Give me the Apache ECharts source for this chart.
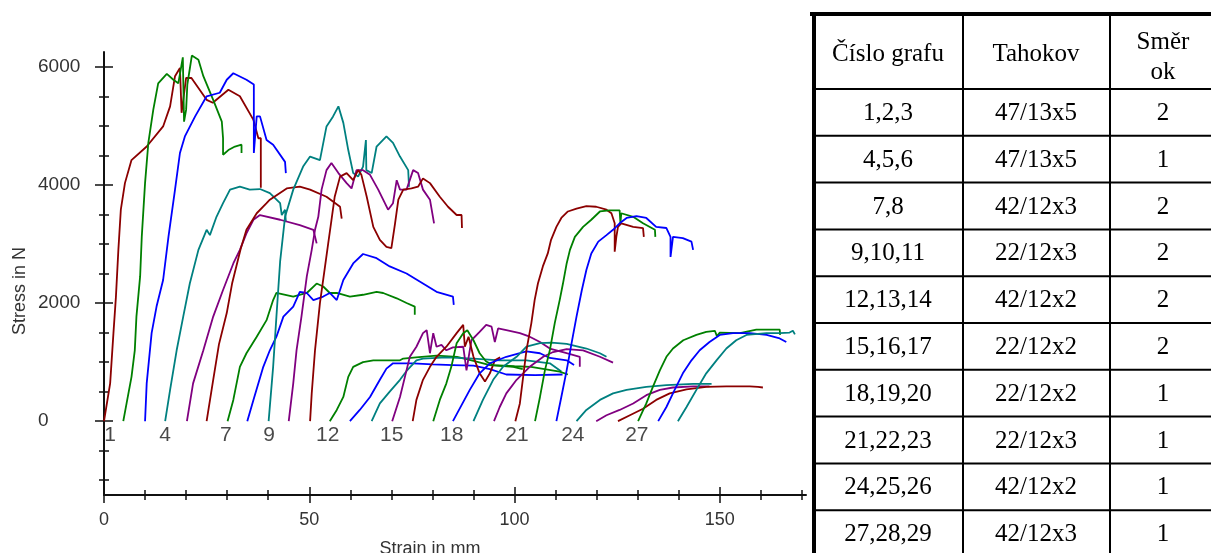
<!DOCTYPE html>
<html>
<head>
<meta charset="utf-8">
<script src="https://cdn.jsdelivr.net/npm/echarts@6/dist/echarts.min.js"></script>
<style>
  html, body { margin: 0; padding: 0; background: #fff; }
  #chart { width: 1211px; height: 553px; }
</style>
</head>
<body>
<div id="chart"></div>
<script>
// strain [mm], stress [N]
const curve01 = [[0,0],[1.5,640],[2.3,1490],[2.9,2100],[3.5,2900],[4.1,3580],[5.1,4030],[6.7,4420],[10.4,4650],[14.4,4990],[16.1,5330],[17.3,5840],[18.5,5980],[18.9,5220],[20,5810],[21.3,5810],[25,5440],[26.5,5390],[30.3,5610],[33.1,5500],[36.4,5100],[37.6,4790],[38.2,4790],[38.2,3950]];
const curve02 = [[4.7,0],[5.5,300],[6.7,750],[7.5,1200],[7.9,1770],[8.8,2450],[9.2,3120],[10,4030],[10.8,4710],[12,5270],[13.2,5720],[15.3,5880],[16.9,5780],[18.1,5720],[19.2,6160],[19.5,5070],[20,5270],[20.3,5700],[21.4,6190],[23,6120],[24.2,5840],[26.6,5440],[28.7,5070],[29,4790],[29,4510],[30.3,4590],[31.9,4650],[33.5,4680],[33.5,4540]];
const curve03 = [[10,0],[10.4,640],[11.6,1490],[12.8,1940],[14.4,2390],[15.7,3120],[17.3,3920],[18.5,4540],[19.7,4820],[22.2,5160],[25,5500],[28.2,5560],[29.9,5780],[31.5,5890],[34.7,5780],[36.5,5700],[36.5,4540],[37.2,5160],[38,5160],[39.6,4760],[41.2,4680],[44.1,4390],[44.3,4200]];
const curve04 = [[14.9,0],[16.1,530],[17.7,1200],[19.3,1770],[20.9,2330],[23,2900],[25,3240],[25.8,3150],[27.4,3460],[29,3690],[30.7,3920],[33.1,3970],[35.5,3920],[38,3930],[40.4,3860],[42.9,3690],[43.3,3490],[44.1,3580],[44.3,3370]];
const curve05 = [[20.2,0],[21.7,640],[24.2,1200],[26.6,1770],[29,2220],[31.5,2670],[33.1,2900],[34.7,3180],[36.4,3410],[38,3490],[42.9,3410],[47.7,3320],[51,3240],[51.8,3010]];
const curve06 = [[25,0],[26.6,700],[28,1300],[29.9,1830],[31.2,2330],[33.3,2920],[34.7,3240],[37.2,3520],[39.6,3690],[40.4,3750],[44.5,3940],[47.7,3970],[50.2,3920],[54.2,3800],[57.5,3630],[57.9,3430]];
const curve07 = [[30.1,0],[31.5,360],[33.1,920],[34.7,1150],[37.2,1430],[39.6,1710],[41.2,2050],[42,2170],[46.1,2110],[49.4,2170],[51.8,2330],[53.4,2280],[55,2170],[56.7,2170],[59.9,2110],[63.1,2140],[66.4,2190],[68,2170],[71.3,2080],[73.7,2000],[75.7,1940],[75.7,1800]];
const curve08 = [[34.9,0],[36.4,360],[38.8,920],[40.4,1200],[42,1430],[43.7,1770],[46.1,1940],[47.7,2190],[49.4,2170],[51,2050],[53.4,2110],[55,2170],[56.7,2050],[58.3,2390],[60.7,2670],[63.1,2830],[66.4,2760],[69.6,2620],[73.7,2500],[77.7,2330],[81,2190],[85,2110],[85.2,1970]];
const curve09 = [[40.1,0],[41.2,920],[42,1770],[42.9,2700],[44.1,3460],[46.1,3920],[48.5,4310],[50.2,4480],[52.6,4420],[54.2,4990],[55.8,5160],[57.1,5330],[58.3,5050],[59.5,4590],[60.7,4200],[61.9,4140],[63.1,4310],[63.8,4760],[63.9,4250],[65.2,4200],[66.4,4650],[68.8,4820],[70.4,4710],[72.1,4480],[74.1,4250],[74.3,3970]];
const curve10 = [[45,0],[46.1,640],[46.9,1200],[48.1,1770],[49.4,2450],[50.6,2900],[51.4,3240],[52.2,3460],[53,3920],[54.2,4250],[55.4,4370],[57.1,4200],[59.1,4030],[60.3,3940],[61.5,4250],[63.1,4250],[64.8,4170],[66.8,3920],[69.2,3580],[70.4,3690],[71.3,4080],[72.1,3920],[73.7,3920],[75.3,4250],[76.5,4200],[77.7,3920],[79.4,3750],[80.4,3350]];
const curve11 = [[50.2,0],[50.6,470],[51.4,1200],[52.6,2000],[53.8,2600],[54.6,3000],[55.4,3400],[56.2,3800],[57.5,4140],[59.1,4200],[60.7,4080],[61.9,4250],[62.7,4170],[64,3800],[65.6,3290],[67.2,3070],[68.8,2950],[70,2930],[70.9,3350],[71.7,3750],[72.9,3920],[74.9,3940],[76.5,3970],[77.7,4110],[79.4,4030],[81.8,3800],[83.8,3630],[85.9,3490],[87.1,3490],[87.2,3270]];
const curve12 = [[55,0],[56.7,190],[58.3,410],[59.5,750],[60.7,920],[63.1,1000],[65.6,1030],[72.1,1030],[72.9,1060],[76,1080],[81,1110],[86,1090],[90,1020],[94,950],[99.7,920],[102,880]];
const curve13 = [[59.9,0],[62.3,190],[64.8,410],[67.2,700],[68.8,890],[70.4,980],[75.3,980],[80,960],[85,950],[90,940],[94,880],[98,790],[105,780],[111.7,790]];
const curve14 = [[65.2,0],[67.2,300],[69.6,500],[72.1,700],[73.7,850],[76.1,1030],[77.7,1060],[83.4,1080],[90,1060],[96.4,1030],[102.9,1030],[108.6,980],[111.4,840]];
const curve15 = [[70.2,0],[72.1,410],[73.3,750],[74.5,1090],[76.1,1260],[77.7,1490],[78.6,1540],[79.4,1150],[80.2,1490],[81,1260],[82.2,1290],[83.4,1200],[85,1250],[87.5,1260],[88.3,860],[89.5,1370],[91.5,1510],[93.1,1630],[94.4,1600],[95.2,1340],[96,1570],[98,1540],[101.3,1490],[103.7,1430],[106.2,1340],[108.6,1230],[112.7,1150],[115.9,1090],[115.9,920]];
const curve16 = [[75.2,0],[76.1,360],[77.7,700],[79.4,920],[81,1090],[83.4,1260],[85.9,1490],[87.5,1630],[87.9,1260],[88.8,1430],[90,1090],[91.5,810],[92.8,670],[94,810],[95.2,1030],[96.5,1080]];
const curve17 = [[80.2,0],[81.8,360],[83.4,640],[84.6,920],[85.9,1320],[87.5,1490],[88.5,1540],[90,1370],[91.5,1150],[93.1,1010],[94.8,950],[100,930],[104,920],[111,840],[113,790]];
const curve18 = [[85,0],[87,260],[89.1,530],[91.5,810],[94,980],[98,1090],[101.3,1150],[102.9,1180],[106.2,1150],[108.6,1070],[112.7,1030],[114.5,950]];
const curve19 = [[90,0],[92.3,360],[94.8,700],[97.2,920],[100.5,1090],[102.9,1260],[106.2,1320],[109,1330],[112.7,1310],[117.5,1230],[120.8,1150],[122.4,1090]];
const curve20 = [[95,0],[96.4,240],[98,470],[100.5,700],[103.7,920],[107,1090],[109.4,1170],[112.7,1220],[116.7,1200],[120.8,1090],[124,990]];
const curve21 = [[100.2,0],[101.3,300],[102.1,750],[102.9,1200],[104.1,1660],[104.9,2050],[105.7,2330],[106.9,2620],[108.1,2840],[108.9,3070],[110.2,3290],[111.4,3440],[113,3550],[115.1,3600],[117.5,3640],[119.9,3630],[122.4,3580],[123.6,3520],[124.4,3350],[124.4,2870],[124.8,3120],[125.2,3290],[126,3350],[128.9,3290],[131.3,3270],[131.5,3120]];
const curve22 = [[105,0],[106.2,410],[107.4,860],[108.6,1200],[109.8,1660],[111,2050],[111.8,2330],[112.7,2670],[113.5,2900],[114.7,3120],[116.7,3290],[118.7,3410],[120.8,3550],[123.1,3570],[125.6,3570],[125.8,3350],[126,3520],[128.9,3460],[131.3,3350],[134.2,3240],[134.3,3120]];
const curve23 = [[110.2,0],[111.4,410],[112.7,860],[113.9,1320],[115.1,1770],[116.4,2220],[117.5,2560],[118.7,2840],[120.4,3040],[122.4,3150],[124,3240],[125.6,3350],[127.3,3440],[129.7,3470],[132.1,3440],[134.5,3290],[137,3270],[138,3120],[138,2780],[138.6,3120],[141,3100],[143.1,3040],[143.5,2900]];
const curve24 = [[115.1,0],[117.5,190],[120.8,360],[124,470],[127.3,530],[132.1,580],[137,610],[143.5,630],[148,630]];
const curve25 = [[119.9,0],[122.4,100],[125.6,190],[128.9,300],[132.1,440],[135.4,530],[138.6,570],[143.5,590],[147.5,590]];
const curve26 = [[125.2,0],[128.1,100],[131.3,210],[134.5,360],[137.8,470],[141.9,540],[146.7,580],[151.6,590],[157.3,590],[159.3,580],[160.5,570]];
const curve27 = [[130.1,0],[132.1,300],[133.7,580],[135.4,860],[137,1090],[138.6,1230],[141.1,1370],[144.3,1460],[146.7,1510],[148.8,1530],[149.3,1440],[150,1500],[154.9,1490],[158.9,1550],[164.6,1550],[164.7,1460]];
const curve28 = [[135,0],[137,240],[139,530],[141,810],[143.1,1030],[145.1,1200],[147.5,1340],[150,1460],[153.2,1490],[157.3,1490],[161.4,1460],[164.6,1400],[166.2,1340]];
const curve29 = [[139.8,0],[141.9,240],[144.3,530],[146.7,810],[149.2,1030],[151.6,1230],[154,1370],[156.5,1460],[161.4,1490],[164.6,1490],[167,1500],[167.8,1530],[168.3,1470]];

const curves = [curve01,curve02,curve03,curve04,curve05,curve06,curve07,curve08,curve09,curve10,
  curve11,curve12,curve13,curve14,curve15,curve16,curve17,curve18,curve19,curve20,
  curve21,curve22,curve23,curve24,curve25,curve26,curve27,curve28,curve29];
const palette = ['#8b0000', '#008000', '#0000ff', '#008080', '#800080'];

// numbers written under the curves
const curveNoText = ['1','4','7','9','12','15','18','21','24','27'];
const curveNoX = [1.5, 14.9, 29.7, 40.2, 54.5, 70.1, 84.7, 100.6, 114.2, 129.8];
const curveNoY = -240;

// axis ticks
const xMinorTicks = [10,20,30,40,60,70,80,90,110,120,130,140,160,170];
const xMajorTicks = [0,50,100,150];
const yMinorTicks = [-1000,-500,500,1000,1500,2500,3000,3500,4500,5000,5500];
const yMajorTicks = [0,2000,4000,6000];

// table
const tableHead = ['Číslo grafu', 'Tahokov', 'Směr\nok'];
const tableGraphs = ['1,2,3','4,5,6','7,8','9,10,11','12,13,14','15,16,17','18,19,20','21,22,23','24,25,26','27,28,29'];
const tablePuller = ['47/13x5','47/13x5','42/12x3','22/12x3','42/12x2','22/12x2','22/12x2','22/12x3','42/12x2','42/12x3'];
const tableDir = ['2','1','2','2','2','2','1','1','1','1'];

const axisFont = 'Liberation Sans, Arial, sans-serif';
const tableFont = '"Liberation Serif", "Times New Roman", serif';
const ink = '#111';
const plain = function (v) { return String(v); };

function xAx(ticks, len, inside, extra) {
  return Object.assign({
    type: 'value', min: 0, max: 171, position: 'bottom', gridIndex: 0,
    axisLine: { show: false, onZero: false },
    axisTick: { show: true, customValues: ticks, length: len, inside: inside, lineStyle: { color: ink, width: 1.5 } },
    axisLabel: { show: false },
    splitLine: { show: false }
  }, extra || {});
}
function yAx(ticks, len, inside, extra) {
  return Object.assign({
    type: 'value', min: -1250, max: 6250, position: 'left', gridIndex: 0,
    axisLine: { show: false, onZero: false },
    axisTick: { show: true, customValues: ticks, length: len, inside: inside, lineStyle: { color: ink, width: 1.5 } },
    axisLabel: { show: false },
    splitLine: { show: false }
  }, extra || {});
}

const xAxes = [
  xAx(xMinorTicks, 5, false, {
    axisLine: { show: true, onZero: false, lineStyle: { color: ink, width: 2 } },
    axisLabel: { show: true, customValues: xMajorTicks, formatter: plain, margin: 16, fontSize: 18, color: '#333', fontFamily: axisFont }
  }),
  xAx(xMinorTicks, 5, true),
  xAx(xMajorTicks, 8, false),
  xAx(xMajorTicks, 8, true)
];
const yAxes = [
  yAx(yMinorTicks, 5, false, {
    axisLine: { show: true, onZero: false, lineStyle: { color: ink, width: 2 } },
    // labels in the picture are left aligned at x ~ 38
    axisLabel: { show: true, customValues: yMajorTicks, formatter: plain, margin: 66, align: 'left', fontSize: 19, color: '#333', fontFamily: axisFont }
  }),
  yAx(yMinorTicks, 5, true),
  yAx(yMajorTicks, 9, false),
  yAx(yMajorTicks, 9, true)
];

const series = curves.map(function (c, i) {
  return {
    type: 'line', name: String(i + 1), data: c,
    xAxisIndex: 0, yAxisIndex: 0,
    showSymbol: false, symbol: 'none',
    lineStyle: { color: palette[i % 5], width: 1.8 },
    itemStyle: { color: palette[i % 5] },
    z: 3
  };
});
series.push({
  type: 'scatter', xAxisIndex: 0, yAxisIndex: 0,
  symbolSize: 0,
  itemStyle: { color: 'transparent' },
  data: curveNoX.map(function (x, i) { return { name: curveNoText[i], value: [x, curveNoY] }; }),
  label: { show: true, position: 'inside', formatter: '{b}', fontSize: 21, color: '#1a1a1a', fontFamily: axisFont },
  z: 4
});

// table drawn as graphic elements
const colX = [814, 963, 1110, 1216];
const headTop = 14, headBottom = 89, rowH = 46.8;
const graphic = [];
function line(x1, y1, x2, y2, w) {
  graphic.push({ type: 'line', shape: { x1: x1, y1: y1, x2: x2, y2: y2 }, style: { stroke: '#000', lineWidth: w }, z: 10 });
}
function text(x, y, s, font, extra) {
  graphic.push({
    type: 'text', x: x, y: y, z: 10,
    style: Object.assign({ text: s, font: font, fill: '#000', align: 'center', verticalAlign: 'middle', textAlign: 'center', textVerticalAlign: 'middle' }, extra || {})
  });
}
line(810, headTop, 1220, headTop, 4);
line(colX[0], 12, colX[0], 560, 4);
line(colX[1], headTop, colX[1], 560, 2);
line(colX[2], headTop, colX[2], 560, 2);
for (let r = 0; r <= tableGraphs.length; r++) {
  line(colX[0], headBottom + r * rowH, 1220, headBottom + r * rowH, 2);
}
const colC = [888, 1036, 1163];
text(colC[0], 54, tableHead[0], '25px ' + tableFont);
text(colC[1], 54, tableHead[1], '25px ' + tableFont);
text(colC[2], 57, tableHead[2], '25px ' + tableFont, { lineHeight: 30 });
tableGraphs.forEach(function (g, r) {
  const cy = headBottom + r * rowH + rowH / 2 + 1;
  text(colC[0], cy, g, '25px ' + tableFont);
  text(colC[1], cy, tablePuller[r], '25px ' + tableFont);
  text(colC[2], cy, tableDir[r], '25px ' + tableFont);
});
// axis titles
graphic.push({
  type: 'text', x: 20, y: 291, rotation: Math.PI / 2, z: 10,
  style: { text: 'Stress in N', font: '18px ' + axisFont, fill: '#333', align: 'center', verticalAlign: 'middle', textAlign: 'center', textVerticalAlign: 'middle' }
});
text(430, 549, 'Strain in mm', '18px ' + axisFont, { fill: '#333' });

const chart = echarts.init(document.getElementById('chart'), null, { renderer: 'canvas' });
chart.setOption({
  animation: false,
  backgroundColor: '#fff',
  grid: { left: 104, top: 52, width: 702, height: 443, containLabel: false },
  xAxis: xAxes,
  yAxis: yAxes,
  series: series,
  graphic: graphic
});
</script>
</body>
</html>
